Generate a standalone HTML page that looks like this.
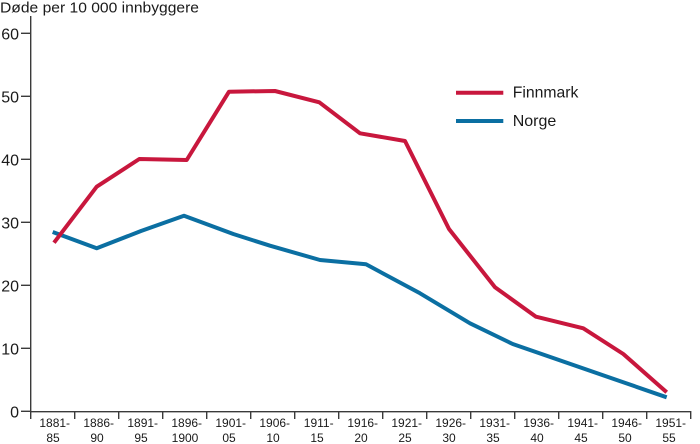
<!DOCTYPE html>
<html><head><meta charset="utf-8"><style>
html,body{margin:0;padding:0;background:#fff;}
svg{display:block;}
text{font-family:"Liberation Sans",Arial,sans-serif;fill:#1a1a1a;}
</style></head><body>
<svg width="700" height="444" viewBox="0 0 700 444" xmlns="http://www.w3.org/2000/svg">
<text x="0" y="12.5" font-size="15" textLength="199" lengthAdjust="spacingAndGlyphs">Døde per 10 000 innbyggere</text>
<g stroke="#3a3a3a" stroke-width="1.4" fill="none">
<line x1="30.7" y1="16" x2="30.7" y2="412"/>
<line x1="30" y1="411.7" x2="691" y2="411.7"/>
<line x1="21" y1="33.3" x2="31" y2="33.3"/>
<line x1="21" y1="96.3" x2="31" y2="96.3"/>
<line x1="21" y1="159.3" x2="31" y2="159.3"/>
<line x1="21" y1="222.3" x2="31" y2="222.3"/>
<line x1="21" y1="285.3" x2="31" y2="285.3"/>
<line x1="21" y1="348.3" x2="31" y2="348.3"/>
<line x1="21" y1="411.3" x2="31" y2="411.3"/>
<line x1="30.7" y1="411" x2="30.7" y2="419"/>
<line x1="74.7" y1="411" x2="74.7" y2="419"/>
<line x1="118.7" y1="411" x2="118.7" y2="419"/>
<line x1="162.7" y1="411" x2="162.7" y2="419"/>
<line x1="206.7" y1="411" x2="206.7" y2="419"/>
<line x1="250.7" y1="411" x2="250.7" y2="419"/>
<line x1="294.7" y1="411" x2="294.7" y2="419"/>
<line x1="338.7" y1="411" x2="338.7" y2="419"/>
<line x1="382.7" y1="411" x2="382.7" y2="419"/>
<line x1="426.7" y1="411" x2="426.7" y2="419"/>
<line x1="470.7" y1="411" x2="470.7" y2="419"/>
<line x1="514.7" y1="411" x2="514.7" y2="419"/>
<line x1="558.7" y1="411" x2="558.7" y2="419"/>
<line x1="602.7" y1="411" x2="602.7" y2="419"/>
<line x1="646.7" y1="411" x2="646.7" y2="419"/>
<line x1="690.7" y1="411" x2="690.7" y2="419"/>
</g>
<g font-size="16" text-anchor="end">
<text x="19" y="39.3">60</text>
<text x="19" y="102.3">50</text>
<text x="19" y="165.3">40</text>
<text x="19" y="228.3">30</text>
<text x="19" y="291.3">20</text>
<text x="19" y="354.3">10</text>
<text x="19" y="417.3">0</text>
</g>
<g font-size="12" text-anchor="middle">
<text x="54.7" y="427">1881-</text><text x="53" y="442">85</text>
<text x="98.7" y="427">1886-</text><text x="97" y="442">90</text>
<text x="142.7" y="427">1891-</text><text x="141" y="442">95</text>
<text x="186.7" y="427">1896-</text><text x="185" y="442">1900</text>
<text x="230.7" y="427">1901-</text><text x="229" y="442">05</text>
<text x="274.7" y="427">1906-</text><text x="273" y="442">10</text>
<text x="318.7" y="427">1911-</text><text x="317" y="442">15</text>
<text x="362.7" y="427">1916-</text><text x="361" y="442">20</text>
<text x="406.7" y="427">1921-</text><text x="405" y="442">25</text>
<text x="450.7" y="427">1926-</text><text x="449" y="442">30</text>
<text x="494.7" y="427">1931-</text><text x="493" y="442">35</text>
<text x="538.7" y="427">1936-</text><text x="537" y="442">40</text>
<text x="582.7" y="427">1941-</text><text x="581" y="442">45</text>
<text x="626.7" y="427">1946-</text><text x="625" y="442">50</text>
<text x="670.7" y="427">1951-</text><text x="669" y="442">55</text>
</g>
<polyline fill="none" stroke="#0b6fa2" stroke-width="4" stroke-linejoin="round" points="52.7,232 96.7,248.3 141,231 184,215.7 233.3,234 270,245.7 320,260 366,264.3 420,293.3 470,323.3 512.7,344 666.7,397.3"/>
<polyline fill="none" stroke="#c8173d" stroke-width="4" stroke-linejoin="round" points="54,242.7 96.7,186.7 139.3,159 186.7,160 229,91.7 275,91 319.3,102.3 360,133.3 405,141 449,229 495,287.3 536,316.7 583.3,328.3 623.3,354 666.7,392.3"/>
<line x1="456" y1="92.7" x2="503.3" y2="92.7" stroke="#c8173d" stroke-width="4"/>
<line x1="456" y1="121" x2="503.3" y2="121" stroke="#0b6fa2" stroke-width="4"/>
<text x="512.7" y="97.5" font-size="16" textLength="65.7" lengthAdjust="spacingAndGlyphs">Finnmark</text>
<text x="512.7" y="126" font-size="16">Norge</text>
</svg>
</body></html>
